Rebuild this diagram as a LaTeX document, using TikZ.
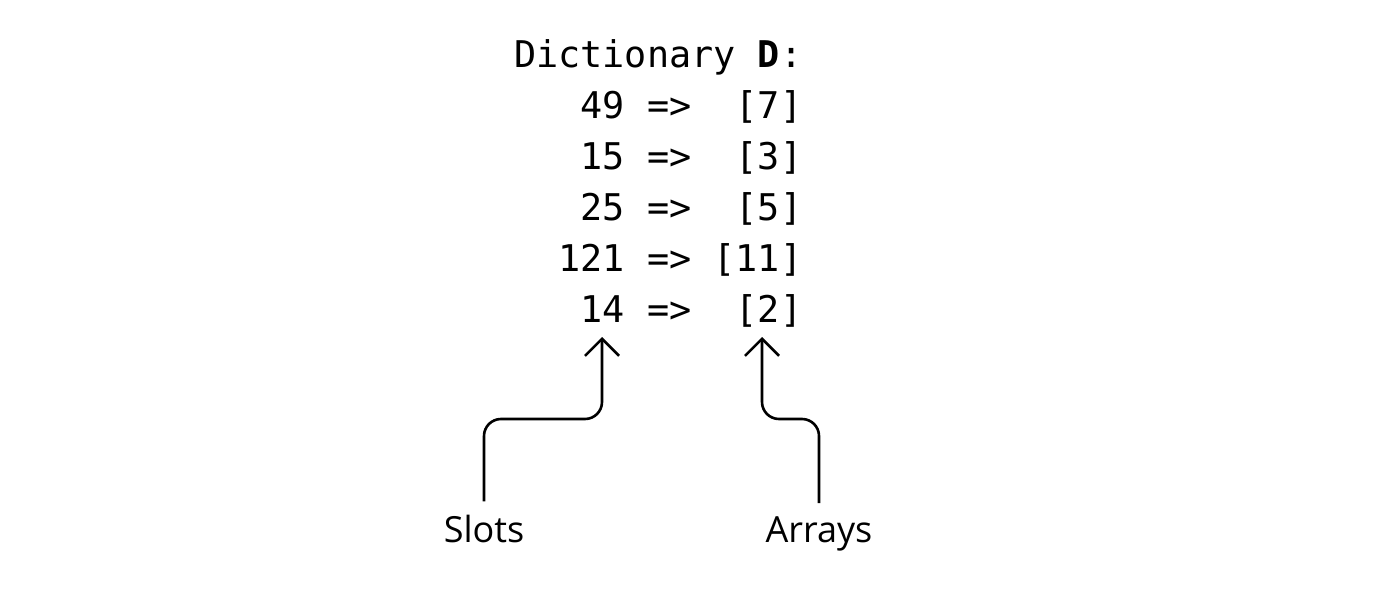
\documentclass[tikz,border=0pt]{standalone}
\usepackage{fontspec}
\setmainfont{Open Sans}
\setmonofont{DejaVu Sans Mono}
\usetikzlibrary{arrows.meta}
\tikzset{
  row/.style={anchor=base west, inner sep=0pt, font=\fontsize{36.8}{43}\selectfont\ttfamily},
  lbl/.style={anchor=base, inner sep=0pt, font=\fontsize{36}{43}\selectfont},
  conn/.style={line width=2.6pt, rounded corners=17pt, -{Straight Barb[length=17pt,width=34pt]}}
}
\begin{document}
\begin{tikzpicture}[x=1pt,y=1pt]
\useasboundingbox (0,0) rectangle (1400,-589);
\node[row] (title) at (514,-67) {Dictionary~\textbf{D}:};
\node[row] (r1) at (514,-118) {~~~49~=>~~[7]};
\node[row] (r2) at (514,-169) {~~~15~=>~~[3]};
\node[row] (r3) at (514,-220) {~~~25~=>~~[5]};
\node[row] (r4) at (514,-271) {~~121~=>~[11]};
\node[row] (r5) at (514,-322) {~~~14~=>~~[2]};
\node[lbl] (slots) at (484,-542) {Slots};
\node[lbl] (arrays) at (819,-542) {Arrays};
\coordinate (slotTip) at (602,-337);
\coordinate (arrTip) at (762,-337);
\draw[conn] ([yshift=13pt]slots.north) |- ([yshift=-82pt]slotTip) -- (slotTip);
\draw[conn] ([yshift=13pt]arrays.north) |- ([yshift=-82pt]arrTip) -- (arrTip);
\end{tikzpicture}
\end{document}
